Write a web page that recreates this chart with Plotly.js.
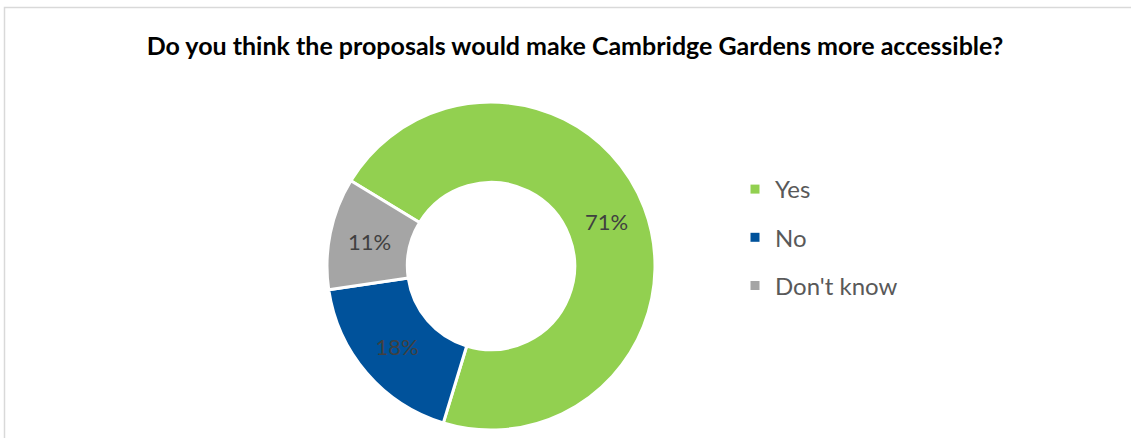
<!DOCTYPE html>
<html>
<head>
<meta charset="utf-8">
<script src="https://cdn.plot.ly/plotly-3.0.1.min.js"></script>
<style>html,body{margin:0;padding:0;background:#fff;}#chart{width:1131px;height:438px;}</style>
</head>
<body>
<div id="chart"></div>
<script>
const categories = ["Yes", "No", "Don't know"];
const values = [71, 18, 11];
const colors = ["#92D050", "#00529B", "#A5A5A5"];
const titleText = "Do you think the proposals would make Cambridge Gardens more accessible?";

const W = 1131, H = 438;
const traces = [{
  type: "pie",
  labels: categories,
  values: values,
  sort: false,
  direction: "clockwise",
  rotation: -58.7,
  hole: 0.51,
  marker: {colors: colors, line: {color: "#ffffff", width: 3}},
  textinfo: "percent",
  textposition: "inside",
  insidetextorientation: "horizontal",
  textfont: {family: "Lato, sans-serif", size: 22, color: "#404040"},
  hoverinfo: "skip",
  showlegend: false,
  domain: {x: [327 / W, 655 / W], y: [1 - 430 / H, 1 - 102 / H]}
}];
categories.forEach((c, i) => {
  traces.push({
    type: "scatter", mode: "markers", x: [null], y: [null],
    name: c, legendgroup: "g" + i,
    marker: {symbol: "square", size: 9, color: colors[i]},
    showlegend: true, hoverinfo: "skip"
  });
});

const layout = {
  width: W, height: H,
  margin: {l: 0, r: 0, t: 0, b: 0},
  paper_bgcolor: "#ffffff", plot_bgcolor: "#ffffff",
  title: {text: "<b>" + titleText + "</b>", x: 575 / W, xanchor: "center", y: 1 - 46 / H, yanchor: "middle",
          font: {family: "Lato, sans-serif", size: 25, color: "#000000"}},
  xaxis: {visible: false}, yaxis: {visible: false},
  showlegend: true,
  legend: {x: (775 - 40) / W, xanchor: "left", y: 1 - 167 / H, yanchor: "top",
           font: {family: "Lato, sans-serif", size: 24, color: "#595959"},
           tracegroupgap: 14, itemwidth: 30, bgcolor: "rgba(0,0,0,0)"},
  shapes: [{type: "rect", xref: "paper", yref: "paper", x0: 4.5 / W, x1: 1.01, y0: -0.05, y1: 1 - 7.5 / H,
            line: {color: "#D9D9D9", width: 1.5}, fillcolor: "rgba(0,0,0,0)", layer: "below"}]
};
Plotly.newPlot("chart", traces, layout, {displayModeBar: false, staticPlot: true});
</script>
</body>
</html>
